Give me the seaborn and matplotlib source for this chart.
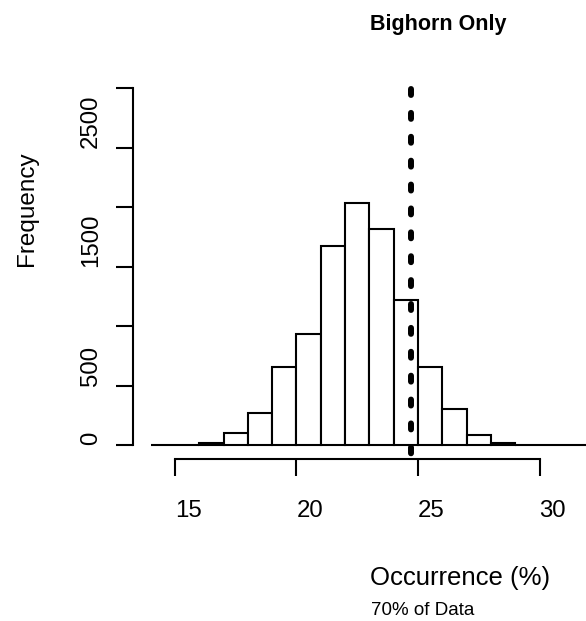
import numpy as np
import pandas as pd
import matplotlib
matplotlib.use("Agg")
import matplotlib.pyplot as plt
import seaborn as sns

# Histogram of simulated occurrence (%), one-unit bins
bin_edges = [14, 15, 16, 17, 18, 19, 20, 21, 22, 23, 24, 25, 26, 27, 28, 29, 30, 31, 32]
bin_counts = [2, 3, 15, 98, 272, 658, 931, 1676, 2033, 1814, 1219, 658, 305, 84, 15, 3, 1, 1]
cutoff = 24.7

x_ticks = [15, 20, 25, 30]
x_tick_labels = ["15", "20", "25", "30"]
y_ticks = [0, 500, 1000, 1500, 2000, 2500, 3000]
y_tick_labels = ["0", "500", "", "1500", "", "2500", ""]

title_text = "Bighorn Only"
x_label = "Occurrence (%)"
y_label = "Frequency"
note_text = "70% of Data"

sns.set_theme(style="white")
plt.rcParams["font.family"] = ["Liberation Sans", "DejaVu Sans"]

W, H = 586, 621
fig = plt.figure(figsize=(W / 100, H / 100), dpi=100)
fig.patch.set_facecolor("white")

# plot region in pixels (left, top, right, bottom)
L, T, R, B = 133.2, 74.0, 605.6, 459.3
ax = fig.add_axes([L / W, 1 - B / H, (R - L) / W, (B - T) / H])
ax.set_facecolor("white")

edges = np.asarray(bin_edges, dtype=float)
hist_df = pd.DataFrame({
    "occurrence": (edges[:-1] + edges[1:]) / 2,
    "count": np.asarray(bin_counts, dtype=float),
})
sns.histplot(data=hist_df, x="occurrence", weights="count", bins=list(bin_edges),
             stat="count", color="white", edgecolor="black", linewidth=1.5,
             alpha=1.0, ax=ax)

ax.set_xlim(13.28, 32.72)
ax.set_ylim(-120, 3120)

# heavy dotted reference line
ax.plot([cutoff, cutoff], [2990, -120], color="black", lw=4.3,
        linestyle=(0, (1.0, 3.0)), dash_capstyle="round", solid_capstyle="round",
        clip_on=False, zorder=5)

for side in ["top", "right"]:
    ax.spines[side].set_visible(False)
for side in ["left", "bottom"]:
    ax.spines[side].set_color("black")
    ax.spines[side].set_linewidth(1.5)
ax.spines["left"].set_bounds(0, 3000)
ax.spines["bottom"].set_bounds(15, 30)

ax.set_xticks(x_ticks)
ax.set_xticklabels(x_tick_labels)
ax.set_yticks(y_ticks)
ax.set_yticklabels(y_tick_labels)
ax.tick_params(axis="both", which="major", direction="out", length=12, width=1.5,
               color="black", labelsize=17.3, labelcolor="black",
               bottom=True, left=True, top=False, right=False)
ax.tick_params(axis="x", pad=17)
ax.tick_params(axis="y", pad=10.5)
for lab in ax.get_xticklabels():
    lab.set_ha("left")
for lab in ax.get_yticklabels():
    lab.set_rotation(90)
    lab.set_va("bottom")
    lab.set_ha("right")

ax.set_xlabel("")
ax.set_ylabel("")
ax.grid(False)

# titles and captions
fig.text(370 / W, 1 - 30 / H, title_text, fontsize=15.5, fontweight="bold",
         ha="left", va="baseline", color="black")
fig.text(370.5 / W, 1 - 585 / H, x_label, fontsize=18.5,
         ha="left", va="baseline", color="black")
fig.text(371 / W, 1 - 615 / H, note_text, fontsize=13.5,
         ha="left", va="baseline", color="black")
fig.text(33.3 / W, 1 - 266 / H, y_label, fontsize=17.5, rotation=90,
         rotation_mode="anchor", ha="left", va="baseline", color="black")

fig.savefig("out.png", dpi=100, facecolor="white")
